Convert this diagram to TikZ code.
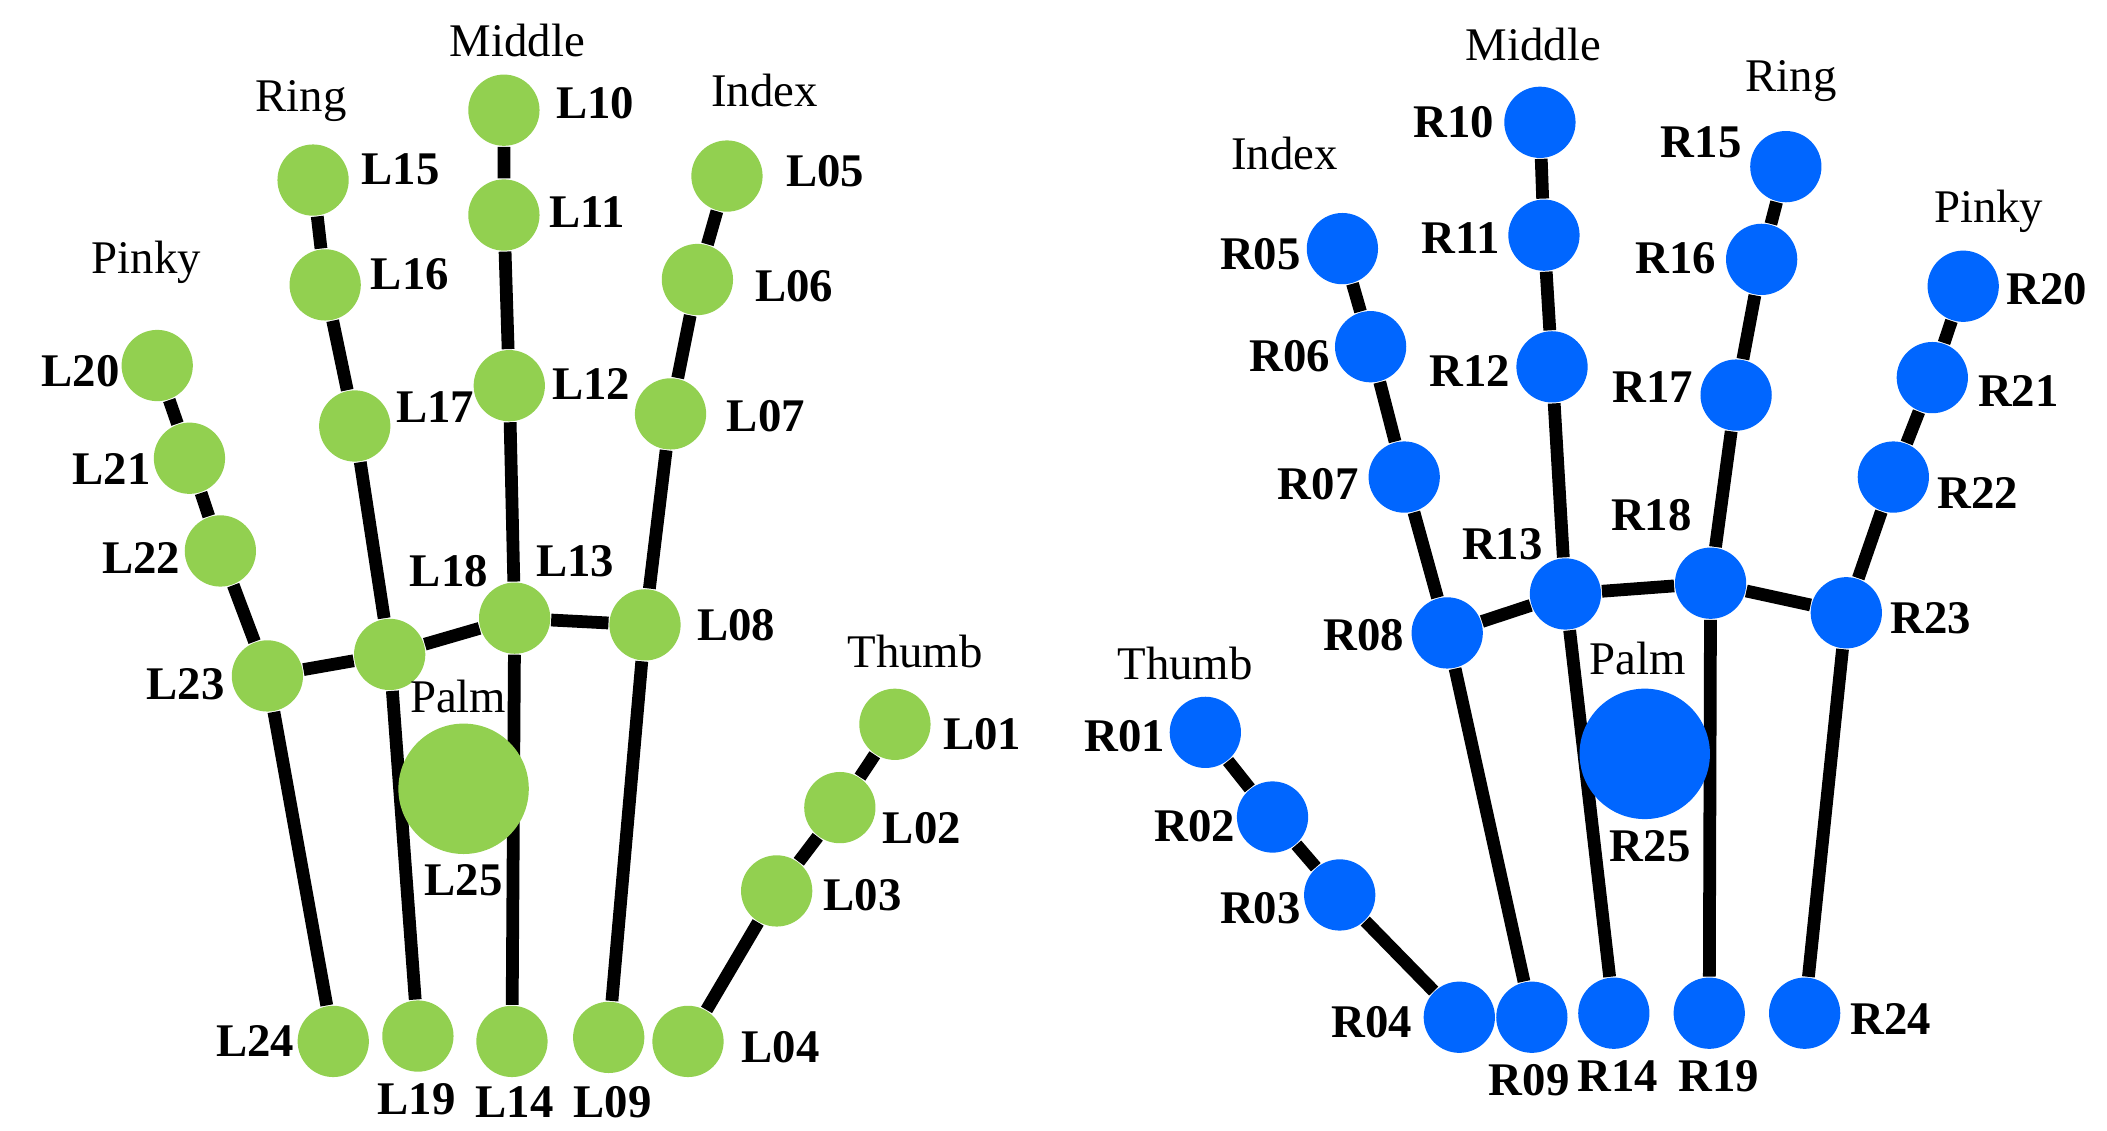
\documentclass[tikz,border=0pt]{standalone}
\usepackage{fontspec}
\setmainfont{Liberation Serif}
\definecolor{lgreen}{HTML}{92D050}
\definecolor{rblue}{HTML}{0066FF}
\begin{document}
\begin{tikzpicture}[x=0.01cm,y=-0.01cm,
 jt/.style={circle,inner sep=0pt,minimum size=5.3mm},
 lj/.style={jt,fill=lgreen},rj/.style={jt,fill=rblue},
 palm/.style={circle,inner sep=0pt,minimum size=9.7mm},
 lb/.style={font=\fontsize{9.9}{12}\selectfont\bfseries,inner sep=0pt},
 fn/.style={font=\fontsize{9.9}{12}\selectfont,inner sep=0pt},
 bone/.style={line width=2.7pt}]
\useasboundingbox (0,0) rectangle (1568,841);
% left hand
\foreach \n/\x/\y in {L01/666/539,L02/625/601,L03/578/663,L04/512/775,
 L05/541/131,L06/519/208,L07/499/308,L08/480/465,L09/453/772,
 L10/375/82,L11/375/160,L12/379/287,L13/383/460,L14/381/775,
 L15/233/134,L16/242/212,L17/264/317,L18/290/487,L19/311/771,
 L20/117/272,L21/141/341,L22/164/410,L23/199/503,L24/248/775}
 \node[lj] (\n) at (\x,\y) {};
\path (345,587) coordinate (cL25);
\draw[bone] (L01)--(L02)--(L03)--(L04) (L05)--(L06)--(L07)--(L08)--(L09)
 (L10)--(L11)--(L12)--(L13)--(L14) (L15)--(L16)--(L17)--(L18)--(L19)
 (L20)--(L21)--(L22)--(L23)--(L24) (L23)--(L18)--(L13)--(L08);
\node[palm,fill=lgreen] (L25) at (cL25) {};
\foreach \n/\x/\y in {L01/731/546,L02/686/616,L03/642/666,L04/581/779,
 L05/614/127,L06/591/213,L07/570/310,L08/548/465,L09/456/820,
 L10/443/77,L11/437/158,L12/440/286,L13/428/418,L14/383/820,
 L15/298/126,L16/305/204,L17/324/303,L18/334/425,L19/310/818,
 L20/60/276,L21/83/349,L22/105/415,L23/138/509,L24/190/775,L25/345/655}
 \node[lb] (t\n) at (\x,\y) {\n};
\node[fn] (lpalm) at (341,518) {Palm};
\node[fn] (lmid) at (385,30) {Middle};
\node[fn] (lring) at (224,75) {Ring};
\node[fn] (lidx) at (569,67) {Index};
\node[fn] (lpinky) at (109,195) {Pinky};
\node[fn] (lthumb) at (681,485) {Thumb};
% right hand
\foreach \n/\x/\y in {R01/897/545,R02/947/608,R03/997/666,R04/1086/757,
 R05/999/185,R06/1020/258,R07/1045/355,R08/1077/471,R09/1140/757,
 R10/1146/91,R11/1149/175,R12/1155/273,R13/1165/442,R14/1201/754,
 R15/1329/124,R16/1311/193,R17/1292/294,R18/1273/434,R19/1272/754,
 R20/1461/213,R21/1438/281,R22/1409/355,R23/1374/456,R24/1343/754}
 \node[rj] (\n) at (\x,\y) {};
\path (1224,561) coordinate (cR25);
\draw[bone] (R01)--(R02)--(R03)--(R04) (R05)--(R06)--(R07)--(R08)--(R09)
 (R10)--(R11)--(R12)--(R13)--(R14) (R15)--(R16)--(R17)--(R18)--(R19)
 (R20)--(R21)--(R22)--(R23)--(R24) (R08)--(R13)--(R18)--(R23);
\node[palm,fill=rblue] (R25) at (cR25) {};
\foreach \n/\x/\y in {R01/837/548,R02/889/615,R03/938/676,R04/1021/761,
 R05/938/189,R06/960/265,R07/981/360,R08/1015/473,R09/1138/804,
 R10/1082/91,R11/1087/177,R12/1094/276,R13/1118/405,R14/1204/801,
 R15/1266/106,R16/1247/192,R17/1230/288,R18/1229/383,R19/1279/801,
 R20/1523/215,R21/1502/291,R22/1472/367,R23/1437/460,R24/1407/758,R25/1228/630}
 \node[lb] (t\n) at (\x,\y) {\n};
\node[fn] (rpalm) at (1219,490) {Palm};
\node[fn] (rmid) at (1141,33) {Middle};
\node[fn] (rring) at (1333,60) {Ring};
\node[fn] (ridx) at (956,114) {Index};
\node[fn] (rpinky) at (1480,157) {Pinky};
\node[fn] (rthumb) at (882,494) {Thumb};
\end{tikzpicture}
\end{document}
